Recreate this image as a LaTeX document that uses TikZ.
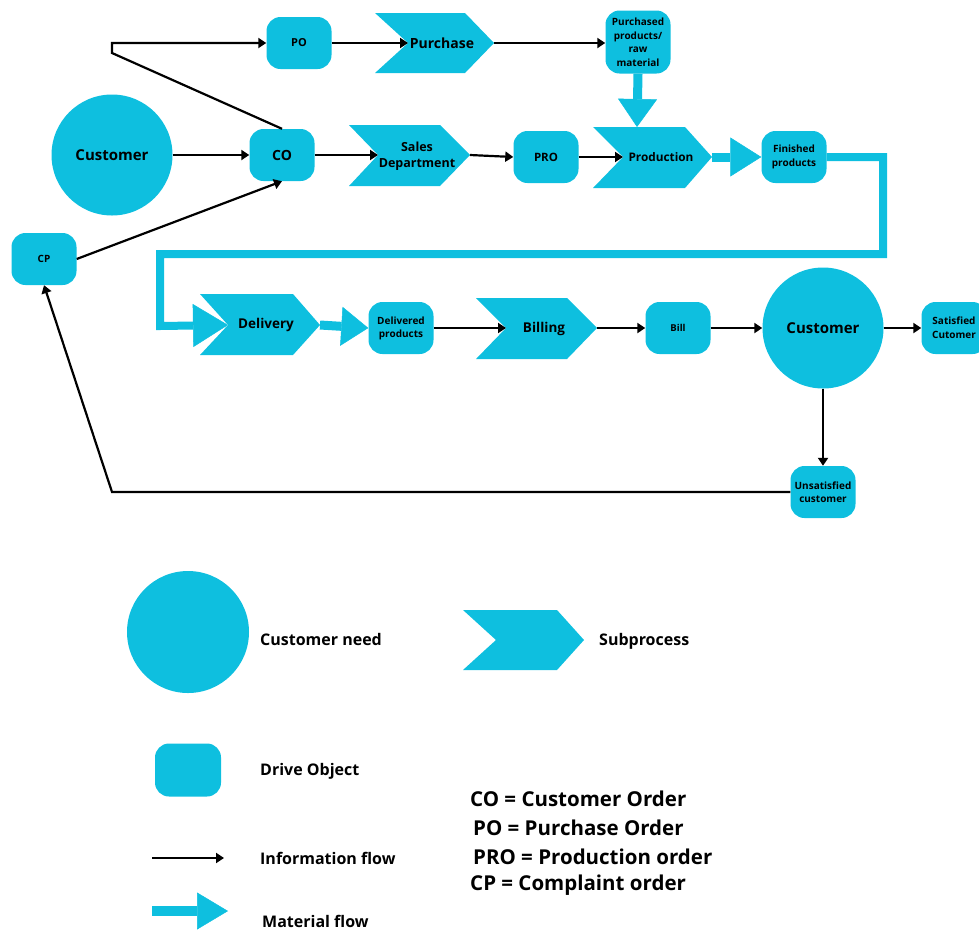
\documentclass[tikz,border=0pt]{standalone}
\usepackage{fontspec}
\setmainfont{Open Sans}
\usetikzlibrary{arrows.meta}
\definecolor{cy}{RGB}{14,191,223}
\newcommand\fs[2]{\fontsize{#1}{#2}\selectfont\bfseries}
% name, x-left, x-notch, x-shoulder, x-tip, y-top, y-mid, y-bottom
\newcommand\chevron[8]{%
  \fill[cy] (#2,#6) -- (#4,#6) -- (#5,#7) -- (#4,#8) -- (#2,#8) -- (#3,#7) -- cycle;
  \coordinate (#1-in) at (#3,#7);
  \coordinate (#1-out) at (#5,#7);
}
\tikzset{
  drive/.style={fill=cy, rounded corners=14pt, minimum width=65pt, minimum height=52pt, inner sep=0pt, align=center},
  need/.style={circle, fill=cy, minimum size=121pt, inner sep=0pt},
  info/.style={line width=2.2pt, -{Triangle[length=8pt,width=10pt]}},
  mat/.style={draw=cy, line width=9pt, -{Triangle[length=30pt,width=39pt,line width=0.5pt]}},
  matline/.style={draw=cy, line width=8pt, -{Triangle[length=35pt,width=43pt,line width=0.5pt]}},
  lbl/.style={anchor=west, inner sep=0pt, font=\fs{16}{19}},
  abbr/.style={anchor=west, inner sep=0pt, font=\fs{20.5}{24}}
}
\begin{document}
\begin{tikzpicture}[x=1pt,y=-1pt]
\useasboundingbox (0,0) rectangle (979,930);

% subprocess chevrons
\chevron{purchase}{375}{408}{465}{494}{13}{43}{73}
\node[font=\fs{14}{17}] (purchase) at (442,43) {Purchase};
\chevron{sales}{349}{378}{440}{470}{125}{155}{186}
\node[font=\fs{12.5}{16}, align=center] (sales) at (417,156) {Sales\\Department};
\chevron{prod}{593}{623}{685}{712}{127}{157}{188}
\node[font=\fs{11.8}{14}] (prod) at (661,157) {Production};
\coordinate (prod-top) at (637,127);
\chevron{deliv}{200}{228}{293}{320}{294}{325}{355}
\node[font=\fs{13.5}{16}] (deliv) at (266,325) {Delivery};
\chevron{bill-p}{476}{506}{567}{597}{298}{328}{359}
\node[font=\fs{13.5}{16}] (billing) at (544,329) {Billing};

% customer circles
\node[need, font=\fs{15}{18}] (cust1) at (112,155) {Customer};
\node[need, font=\fs{15}{18}] (cust2) at (823,328) {Customer};

% drive objects
\node[drive, font=\fs{11}{13}] (po) at (299,43) {PO};
\node[drive, font=\fs{10}{13.5}, minimum height=63pt] (pur) at (638,42) {Purchased\\products/\\raw\\material};
\node[drive, font=\fs{14}{17}] (co) at (282,155) {CO};
\node[drive, font=\fs{11.5}{14}] (pro) at (546,157) {PRO};
\node[drive, font=\fs{10}{14}] (fin) at (794,157) {Finished\\products};
\node[drive, font=\fs{10}{13}] (cp) at (44,259) {CP};
\node[drive, font=\fs{10}{13}] (dp) at (401,328) {Delivered\\products};
\node[drive, font=\fs{9.5}{12}] (bill) at (678,328) {Bill};
\node[drive, font=\fs{10}{14}] (sat) at (954,328) {Satisfied\\Cutomer};
\node[drive, font=\fs{10}{13.5}] (uns) at (823,492) {Unsatisfied\\customer};

% waypoints
\coordinate (k1) at (112,53);
\coordinate (k2) at (112,43);
\coordinate (k3) at (883,157);
\coordinate (k4) at (883,254);
\coordinate (k5) at (160,254);
\coordinate (k6) at (160,326);
\coordinate (k7) at (112,492);

% information flows
\draw[info] (cust1.east) -- (co.west);
\draw[info] (co.north) -- (k1) -- (k2) -- (po.west);
\draw[info] (po.east) -- (purchase-in);
\draw[info] (purchase-out) -- (pur.west |- purchase-out);
\draw[info] (co.east) -- (sales-in);
\draw[info] (sales-out) -- (pro.west);
\draw[info] (pro.east) -- (prod-in);
\draw[info] (dp.east) -- (bill-p-in);
\draw[info] (bill-p-out) -- (bill.west);
\draw[info] (bill.east) -- (cust2.west);
\draw[info] (cust2.east) -- (sat.west);
\draw[info] (cust2.south) -- (uns.north);
\draw[info] (uns.west) -- (k7) -- (cp.south);
\draw[info] (cp.east) -- (co.south);

% material flows
\draw[mat, -{Triangle[length=28pt,width=39pt,line width=0.5pt]}] (pur.south) -- (prod-top);
\draw[mat, -{Triangle[length=31pt,width=39pt,line width=0.5pt]}] (prod-out) -- (fin.west);
\draw[matline] (fin.east) -- (k3) -- (k4) -- (k5) -- (k6) -- (deliv-in);
\draw[mat, -{Triangle[length=27pt,width=39pt,line width=0.5pt]}] (deliv-out) -- (dp.west);

% legend
\node[need, minimum size=122pt] (lg-need) at (188,632) {};
\node[lbl] (lg-need-t) at (260,639) {Customer need};
\chevron{lg-sub}{463}{496}{557}{584}{610}{640}{670}
\node[lbl] (lg-sub-t) at (599,641) {Subprocess};
\node[drive, minimum width=66pt, minimum height=53pt] (lg-drive) at (188,770) {};
\node[lbl] (lg-drive-t) at (260,771) {Drive Object};
\coordinate (lg-i1) at (152,858);
\coordinate (lg-i2) at (224,858);
\draw[info] (lg-i1) -- (lg-i2);
\node[lbl] (lg-info-t) at (260,858) {Information flow};
\coordinate (lg-m1) at (152,911);
\coordinate (lg-m2) at (228,911);
\draw[mat, line width=10pt, -{Triangle[length=31pt,width=37pt,line width=0.5pt]}] (lg-m1) -- (lg-m2);
\node[lbl] (lg-mat-t) at (262,921) {Material flow};

\node[abbr] (ab1) at (470,799) {CO = Customer Order};
\node[abbr] (ab2) at (473,828) {PO = Purchase Order};
\node[abbr] (ab3) at (473,857) {PRO = Production order};
\node[abbr] (ab4) at (470,885) {CP = Complaint order};
\end{tikzpicture}
\end{document}
